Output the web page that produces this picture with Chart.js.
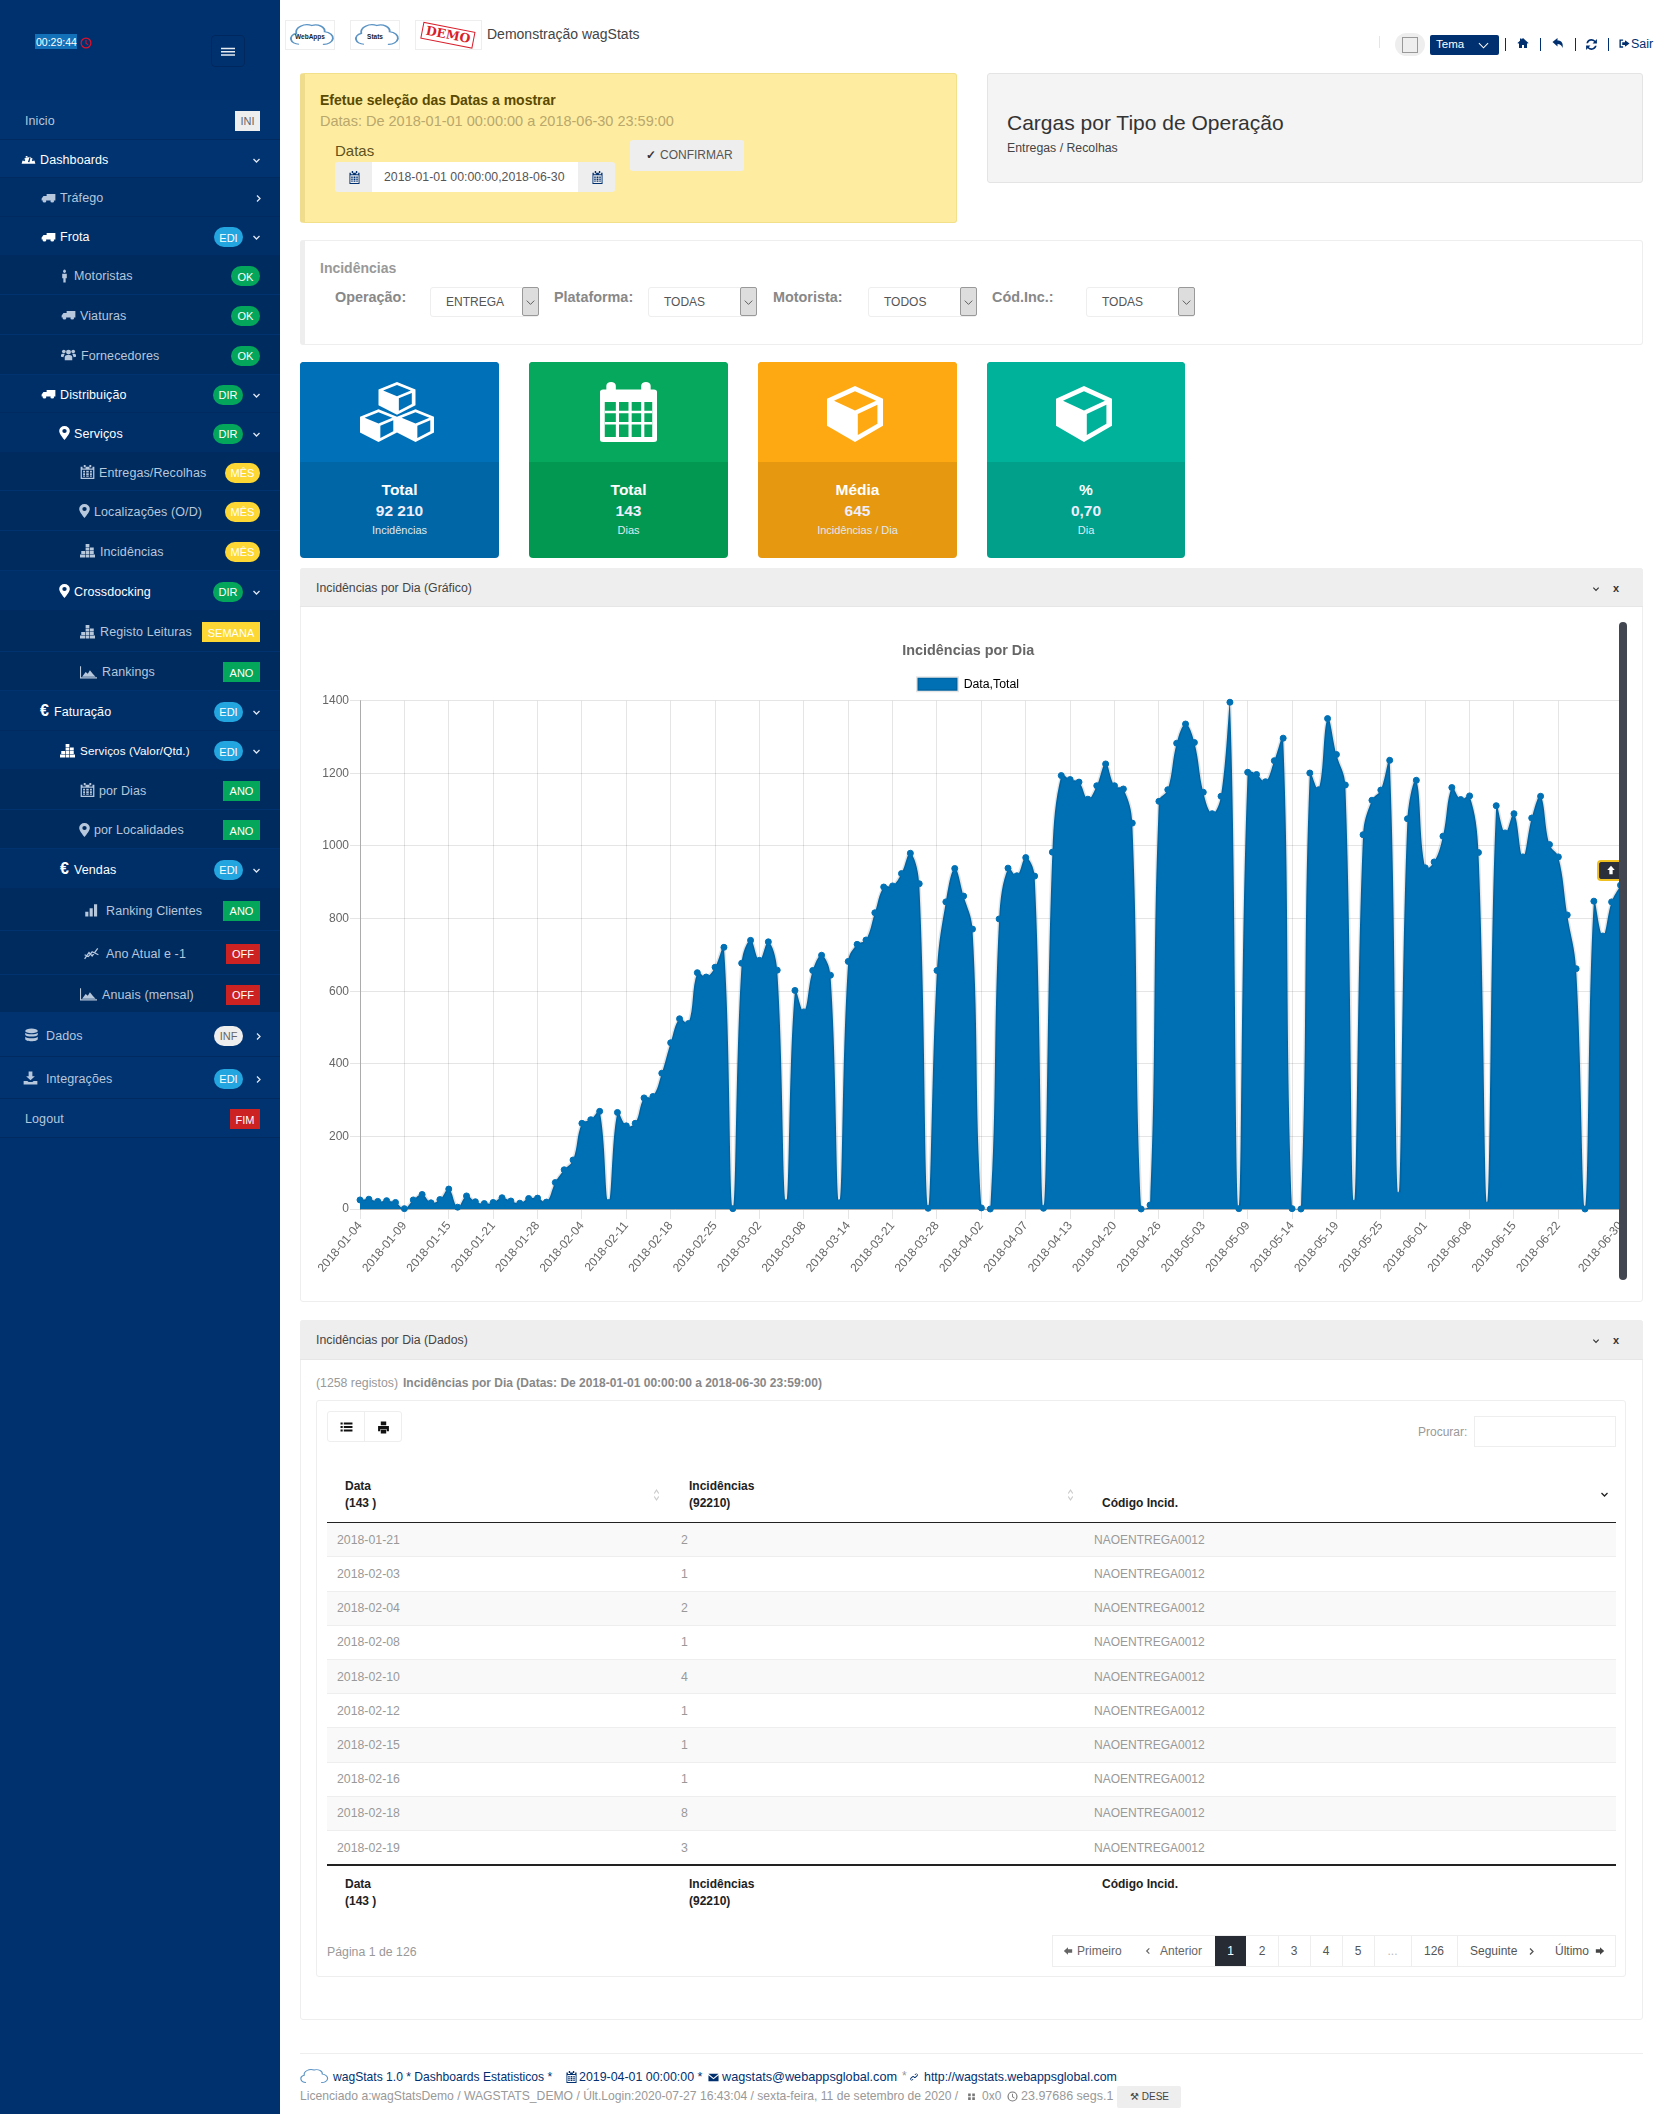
<!DOCTYPE html>
<html lang="pt">
<head>
<meta charset="utf-8">
<title>wagStats - Incidências por Dia</title>
<script src="https://cdn.jsdelivr.net/npm/chart.js@4/dist/chart.umd.js"></script>
<style>
html,body{margin:0;padding:0;background:#fff}
#page{position:relative;width:1673px;height:2114px;overflow:hidden;font:12px "Liberation Sans",Arial,sans-serif;color:#333}
#page div,#page span.t{position:absolute;box-sizing:border-box}
.t{white-space:nowrap;line-height:1;transform:translateY(-50%)}
.c{transform:translate(-50%,-50%)}
svg{position:absolute;fill:currentColor;overflow:visible}
canvas{position:absolute;left:316px;top:630px}
</style>
</head>
<body>
<div id="page"></div>
<canvas id="incidencias-chart" width="1305" height="655"></canvas>
<script>
// chart data
const chartTitle = 'Incidências por Dia';
const seriesName = 'Data,Total';
const categories = [
  '2018-01-04','2018-01-05','2018-01-06','2018-01-07','2018-01-08','2018-01-09','2018-01-10','2018-01-11','2018-01-12','2018-01-13',
  '2018-01-15','2018-01-16','2018-01-17','2018-01-18','2018-01-19','2018-01-21','2018-01-22','2018-01-23','2018-01-24','2018-01-25',
  '2018-01-28','2018-01-30','2018-01-31','2018-02-01','2018-02-03','2018-02-04','2018-02-06','2018-02-07','2018-02-08','2018-02-10',
  '2018-02-11','2018-02-12','2018-02-13','2018-02-15','2018-02-16','2018-02-18','2018-02-19','2018-02-20','2018-02-21','2018-02-22',
  '2018-02-25','2018-02-26','2018-02-27','2018-02-28','2018-03-01','2018-03-02','2018-03-03','2018-03-05','2018-03-06','2018-03-07',
  '2018-03-08','2018-03-09','2018-03-10','2018-03-12','2018-03-13','2018-03-14','2018-03-15','2018-03-16','2018-03-17','2018-03-19',
  '2018-03-21','2018-03-22','2018-03-23','2018-03-24','2018-03-26','2018-03-28','2018-03-29','2018-03-30','2018-03-31','2018-04-01',
  '2018-04-02','2018-04-03','2018-04-04','2018-04-05','2018-04-06','2018-04-07','2018-04-09','2018-04-10','2018-04-11','2018-04-12',
  '2018-04-13','2018-04-14','2018-04-16','2018-04-17','2018-04-19','2018-04-20','2018-04-21','2018-04-23','2018-04-24','2018-04-25',
  '2018-04-26','2018-04-27','2018-04-28','2018-04-30','2018-05-02','2018-05-03','2018-05-04','2018-05-05','2018-05-07','2018-05-08',
  '2018-05-09','2018-05-10','2018-05-11','2018-05-12','2018-05-13','2018-05-14','2018-05-15','2018-05-16','2018-05-17','2018-05-18',
  '2018-05-19','2018-05-21','2018-05-22','2018-05-23','2018-05-24','2018-05-25','2018-05-26','2018-05-28','2018-05-29','2018-05-30',
  '2018-06-01','2018-06-02','2018-06-04','2018-06-05','2018-06-06','2018-06-08','2018-06-09','2018-06-11','2018-06-12','2018-06-13',
  '2018-06-15','2018-06-16','2018-06-18','2018-06-19','2018-06-20','2018-06-22','2018-06-23','2018-06-25','2018-06-26','2018-06-27',
  '2018-06-28','2018-06-29','2018-06-30'
];
const totals = [
  25,27,21,23,18,1,25,40,17,26,
  55,5,36,20,15,18,31,22,16,29,
  30,19,73,108,135,236,246,269,18,266,
  229,236,306,310,374,458,524,511,651,639,
  666,721,1,677,740,685,736,658,17,602,
  543,657,699,644,17,682,729,741,816,887,
  890,924,980,896,2,657,846,938,862,771,
  3,0,799,939,918,968,917,2,983,1194,
  1183,1176,1129,1166,1226,1166,1157,1063,0,11,
  1123,1155,1283,1336,1285,1148,1089,1137,1396,1,
  1203,1197,1177,1235,1297,1,0,1201,1155,1351,
  1252,1168,16,1031,1126,1154,1236,38,1075,1181,
  940,956,1027,1161,1128,1138,982,11,1111,1036,
  1089,970,1077,1137,1004,970,810,662,0,848,
  752,846,892
];
const tickDates = [
  '2018-01-04','2018-01-09','2018-01-15','2018-01-21','2018-01-28','2018-02-04','2018-02-11','2018-02-18','2018-02-25','2018-03-02',
  '2018-03-08','2018-03-14','2018-03-21','2018-03-28','2018-04-02','2018-04-07','2018-04-13','2018-04-20','2018-04-26','2018-05-03',
  '2018-05-09','2018-05-14','2018-05-19','2018-05-25','2018-06-01','2018-06-08','2018-06-15','2018-06-22','2018-06-30'
];

// table data
const tableDates = ['2018-01-21','2018-02-03','2018-02-04','2018-02-08','2018-02-10','2018-02-12','2018-02-15','2018-02-16','2018-02-18','2018-02-19'];
const tableCounts = [2,1,2,1,4,1,1,1,8,3];
const tableCode = 'NAOENTREGA0012';

const NAVY = '#003070';
const BLUE = '#0070b5';

const ICONS = {
  truck:'<path d="M9 4h14v13H9zM1 17v-4l3-5h5v9z"/><circle cx="5.5" cy="18" r="3"/><circle cx="18" cy="18" r="3"/>',
  gauge:'<path fill-rule="evenodd" d="M1 20a11 11 0 1 1 22 0zM11 17l3-9 1.500.7-2 8.800zM5 12a1.700 1.700 0 1 0 .01 0zM19 12a1.700 1.700 0 1 0 .01 0zM9 7a1.500 1.500 0 1 0 .01 0z"/>',
  person:'<circle cx="12" cy="4" r="3"/><path d="M7 8h10v8h-2.500v7h-5v-7H7z"/>',
  users:'<circle cx="12" cy="7" r="4"/><circle cx="4.500" cy="6" r="3"/><circle cx="19.500" cy="6" r="3"/><path d="M6 21v-6a4 4 0 0 1 4-3h4a4 4 0 0 1 4 3v6zM0 15v-3a3 3 0 0 1 3-2h3l-2 5v1zM24 15v-3a3 3 0 0 0-3-2h-3l2 5v1z"/>',
  pin:'<path fill-rule="evenodd" d="M12 0a8.500 8.500 0 0 1 8.500 8.500c0 5-8.500 15.500-8.500 15.500S3.500 13.500 3.500 8.500A8.500 8.500 0 0 1 12 0zm0 5a3.500 3.500 0 1 0 0 7 3.500 3.500 0 0 0 0-7z"/>',
  calendar:'<path fill-rule="evenodd" d="M6 0h3v4H6zM15 0h3v4h-3zM1 3h3v3h5V3h6v3h5V3h3v21H1zM3 8v14h18V8z"/><path d="M5 10h3v3H5zM10 10h4v3h-4zM16 10h3v3h-3zM5 14h3v3H5zM10 14h4v3h-4zM16 14h3v3h-3zM5 18h3v2H5zM10 18h4v2h-4zM16 18h3v2h-3z"/>',
  chartStack:'<path d="M9 0h6v5H9zM9 6h6v5H9zM16 6h6v5h-6zM2 12h6v5H2zM9 12h6v5H9zM16 12h6v5h-6zM0 18h8v5H0zM9 18h6v5H9zM16 18h8v5h-8z"/>',
  area:'<path d="M0 2h1.500v19H24v2H0z"/><path d="M3 20l5-8 3 3 3-6 4 6 4 5z"/>',
  bars:'<path d="M2 15h5v8H2zM9 9h5v14H9zM16 2h5v21h-5z"/>',
  db:'<ellipse cx="12" cy="5" rx="10" ry="4"/><path d="M2 8c3 3.500 17 3.500 20 0v4c-3 3.500-17 3.500-20 0zM2 15c3 3.500 17 3.500 20 0v4c0 5-20 5-20 0z"/>',
  download:'<path d="M9 1h6v8h4l-7 7-7-7h4zM1 17h6l2 2h6l2-2h6v6H1z"/>',
  home:'<path d="M12 2l11 10-1.500 1.500L20 12v10h-6v-6h-4v6H4V12l-1.500 1.500L1 12l5-4.500V3h3v2z"/>',
  reply:'<path d="M11 2v5c8 0 12 5 10 15-2-6-5-8-10-8v5L1 10z"/>',
  refresh:'<path d="M12 2a10 10 0 0 1 7 3l3-3v8h-8l3-3a7 7 0 0 0-11.500 2.500H2.500A10 10 0 0 1 12 2zM12 22a10 10 0 0 1-7-3l-3 3v-8h8l-3 3a7 7 0 0 0 11.500-2.500h3A10 10 0 0 1 12 22z"/>',
  signout:'<path d="M9 3v3H4v12h5v3H1V3zM13 5l10 7-10 7v-4H7V9h6z"/>',
  list:'<path d="M1 3h4v4H1zM7 3h16v4H7zM1 10h4v4H1zM7 10h16v4H7zM1 17h4v4H1zM7 17h16v4H7z"/>',
  print:'<path d="M7 1h10v7H7zM2 9h20v10h-4v-4H6v4H2zM7 16h10v7H7z"/>',
  mail:'<path d="M1 4h22l-11 9zM1 7l11 9 11-9v13H1z"/>',
  link:'<path d="M13 7l3-3a4 4 0 0 1 5 5l-5 5a4 4 0 0 1-5-1l1.500-1.500a2 2 0 0 0 2 .5l5-5a2 2 0 0 0-2-2l-2 2zM11 17l-3 3a4 4 0 0 1-5-5l5-5a4 4 0 0 1 5 1l-1.500 1.500a2 2 0 0 0-2-.5l-5 5a2 2 0 0 0 2 2l2-2z"/>',
  clock:'<path fill-rule="evenodd" d="M12 1a11 11 0 1 1 0 22 11 11 0 0 1 0-22zm0 2.500a8.500 8.500 0 1 0 0 17 8.500 8.500 0 0 0 0-17zM11 6h2v6l4 3-1.200 1.600L11 13z"/>',
  arrowLeft:'<path d="M2 12l10-9v5h10v8H12v5z"/>',
  arrowRight:'<path d="M22 12l-10-9v5H2v8h10v5z"/>',
  arrowUp:'<path d="M12 2l9 10h-5v10H8V12H3z"/>',
  grips:'<path d="M3 4h7v7H3zM14 4h7v7h-7zM3 14h7v7H3zM14 14h7v7h-7z"/>',
  lineChart:'<path fill="none" stroke="currentColor" stroke-width="2" d="M1 22L8 11l5 6L22 4M1 15l6 3 6-8 10 5"/>',
  menu:'<path d="M0 4h24v3H0zM0 11h24v3H0zM0 18h24v3H0z"/>',
  cloud:'<path fill="none" stroke="currentColor" stroke-width="1" d="M6 21a4.500 4.500 0 0 1-1.500-8.700A6 6 0 0 1 13 6a5 5 0 0 1 7 5 5 5 0 0 1-1 10"/>',
  chevD:'<path fill="none" stroke="currentColor" stroke-width="3.500" d="M4 8l8 8 8-8"/>',
  chevR:'<path fill="none" stroke="currentColor" stroke-width="3.500" d="M8 4l8 8-8 8"/>',
  chevL:'<path fill="none" stroke="currentColor" stroke-width="3.500" d="M16 4l-8 8 8 8"/>',
  thinD:'<path fill="none" stroke="currentColor" stroke-width="2.200" d="M2 7l10 10L22 7"/>',
  sort:'<path fill="none" stroke="currentColor" stroke-width="2.500" d="M6 9l6-7 6 7M6 15l6 7 6-7"/>'
};

const page = document.getElementById('page');

function box(x, y, w, h, bg, extra) {
  const el = document.createElement('div');
  el.style.cssText = `left:${x}px;top:${y}px;width:${w}px;height:${h}px;background:${bg};${extra || ''}`;
  page.appendChild(el);
  return el;
}

// text, vertically centred on y
function text(x, y, str, color, size, extra) {
  const el = document.createElement('span');
  el.className = 't';
  el.textContent = str;
  el.style.cssText = `left:${x}px;top:${y}px;color:${color || '#333'};font-size:${size || 12}px;${extra || ''}`;
  page.appendChild(el);
  return el;
}

function ctext(x, y, str, color, size, extra) {
  const el = text(x, y, str, color, size, extra);
  el.classList.add('c');
  return el;
}

// icon centred on x,y
function icon(name, x, y, size, color, h) {
  const height = h || size;
  const holder = document.createElementNS('http://www.w3.org/2000/svg', 'svg');
  holder.setAttribute('viewBox', '0 0 24 24');
  holder.setAttribute('preserveAspectRatio', 'none');
  holder.style.cssText = `left:${x - size / 2}px;top:${y - height / 2}px;width:${size}px;height:${height}px;color:${color}`;
  holder.innerHTML = ICONS[name];
  page.appendChild(holder);
  return holder;
}

/* ---------- sidebar ---------- */
box(0, 0, 280, 2114, '#00316f');
box(35, 34, 42, 15, '#1271b8');
text(36, 42, '00:29:44', '#fff', 10.500);
icon('clock', 86, 43, 12, '#e0102a');
box(211, 35, 34, 32, 'transparent', 'border:1px solid #00285e;border-radius:4px');
icon('menu', 228, 51, 14, '#e8edf4', 11);

const GREEN = '#03a65a', SKY = '#23a6e0', YELLOW = '#fdd835', RED = '#cc2222', LIGHT = '#eeeeee';
// label, text x, row top, row bottom, level, icon, icon x, bright, badge, badge colour, badge left, pill, arrow
const sideRows = [
  ['Inicio', 25, 100, 140, 0, null, 0, 0, 'INI', LIGHT, 235, 0, ''],
  ['Dashboards', 40, 140, 178, 0, 'gauge', 28, 1, '', '', 0, 0, 'd'],
  ['Tráfego', 60, 178, 217, 1, 'truck', 48, 0, '', '', 0, 0, 'r'],
  ['Frota', 60, 217, 256, 1, 'truck', 48, 1, 'EDI', SKY, 214, 1, 'd'],
  ['Motoristas', 74, 256, 295, 2, 'person', 64, 0, 'OK', GREEN, 231, 1, ''],
  ['Viaturas', 80, 295, 335, 2, 'truck', 68, 0, 'OK', GREEN, 231, 1, ''],
  ['Fornecedores', 81, 335, 375, 2, 'users', 68, 0, 'OK', GREEN, 231, 1, ''],
  ['Distribuição', 60, 375, 413, 1, 'truck', 48, 1, 'DIR', GREEN, 213, 1, 'd'],
  ['Serviços', 74, 413, 453, 1, 'pin', 64, 1, 'DIR', GREEN, 213, 1, 'd'],
  ['Entregas/Recolhas', 99, 453, 491, 2, 'calendar', 87, 0, 'MÊS', YELLOW, 225, 1, ''],
  ['Localizações (O/D)', 94, 491, 531, 2, 'pin', 84, 0, 'MÊS', YELLOW, 225, 1, ''],
  ['Incidências', 100, 531, 571, 2, 'chartStack', 87, 0, 'MÊS', YELLOW, 225, 1, ''],
  ['Crossdocking', 74, 571, 611, 1, 'pin', 64, 1, 'DIR', GREEN, 213, 1, 'd'],
  ['Registo Leituras', 100, 611, 652, 2, 'chartStack', 87, 0, 'SEMANA', YELLOW, 202, 0, ''],
  ['Rankings', 102, 652, 691, 2, 'area', 88, 0, 'ANO', GREEN, 223, 0, ''],
  ['Faturação', 54, 691, 731, 1, '€', 45, 1, 'EDI', SKY, 214, 1, 'd'],
  ['Serviços (Valor/Qtd.)', 80, 731, 770, 1, 'chartStack', 67, 1, 'EDI', SKY, 214, 1, 'd'],
  ['por Dias', 99, 770, 810, 2, 'calendar', 87, 0, 'ANO', GREEN, 223, 0, ''],
  ['por Localidades', 94, 810, 849, 2, 'pin', 84, 0, 'ANO', GREEN, 223, 0, ''],
  ['Vendas', 74, 849, 889, 1, '€', 65, 1, 'EDI', SKY, 214, 1, 'd'],
  ['Ranking Clientes', 106, 889, 931, 2, 'bars', 91, 0, 'ANO', GREEN, 223, 0, ''],
  ['Ano Atual e -1', 106, 931, 975, 2, 'lineChart', 91, 0, 'OFF', RED, 226, 0, ''],
  ['Anuais (mensal)', 102, 975, 1013, 2, 'area', 88, 0, 'OFF', RED, 226, 0, ''],
  ['Dados', 46, 1013, 1057, 0, 'db', 31, 0, 'INF', LIGHT, 214, 1, 'r'],
  ['Integrações', 46, 1057, 1099, 0, 'download', 30, 0, 'EDI', SKY, 214, 1, 'r'],
  ['Logout', 25, 1099, 1138, 0, null, 0, 0, 'FIM', RED, 230, 0, '']
];
const levelColours = ['#00336f', '#002f68', '#002b5e'];
const badgeRight = { 'EDI': 243, 'DIR': 243, 'INF': 243 };

sideRows.forEach(r => {
  const [label, tx, top, bottom, level, ic, ix, bright, badge, badgeBg, badgeX, pill, arrow] = r;
  const cy = (top + bottom) / 2;
  box(0, top, 280, bottom - top, levelColours[level], 'border-bottom:1px solid ' + (level === 2 ? '#00336f' : '#002a60'));
  const colour = bright ? '#ffffff' : '#b7c7dc';
  text(tx, cy + 0.7, label, colour, label.length > 20 ? 11.700 : 12.500, 'letter-spacing:.1px');
  if (ic === '€') text(ix - 5, cy, '€', colour, 16, 'font-weight:bold');
  else if (ic) icon(ic, ix, cy, ic === 'area' ? 17 : ic === 'person' ? 11 : 15, colour, ic === 'truck' ? 12 : 14);
  if (badge) {
    const right = badgeRight[badge] || 260;
    const dark = badge === 'INI' || badge === 'INF';
    box(badgeX, cy - 9.500, right - badgeX, 20, badgeBg, pill ? 'border-radius:10px' : '');
    ctext((badgeX + right) / 2, cy + 1, badge, dark ? '#666' : '#fff', 11);
  }
  if (arrow === 'd') icon('chevD', 256, cy + 1, 9, '#dfe6ef');
  if (arrow === 'r') icon('chevR', 258, cy + 1, 9, '#dfe6ef');
});

/* ---------- top bar ---------- */
[[285, 50, 'WebApps'], [350, 50, 'Stats']].forEach(([x, w, name]) => {
  box(x, 20, w, 30, '#fff', 'border:1px solid #eee');
  icon('cloud', x + w / 2, 33, 44, '#5a93c4', 30);
  ctext(x + w / 2, 37, name, '#222', 6.500, 'font-weight:bold');
});
box(415, 20, 67, 30, '#fff', 'border:1px solid #eee');
ctext(448, 35, 'DEMO', '#d81f2c', 12.500, 'font-weight:bold;font-family:"DejaVu Serif",serif;transform:translate(-50%,-50%) rotate(11deg);border:1.500px solid #d81f2c;padding:1px 3px');
text(487, 34, 'Demonstração wagStats', '#444', 14);

box(1379, 36, 1, 12, '#e5e5e5');
box(1395, 33, 30, 23, '#eee', 'border-radius:12px');
box(1402, 37, 16, 16, '#eee', 'border:1px solid #999');
box(1430, 35, 69, 20, NAVY, 'border-radius:2px');
text(1436, 45, 'Tema', '#fff', 11.500);
icon('thinD', 1483, 45, 11, '#fff');
[1505, 1540, 1575, 1608].forEach(x => box(x, 38, 1, 13, NAVY));
icon('home', 1523, 43, 12, NAVY);
icon('reply', 1558, 43, 12, NAVY);
icon('refresh', 1591, 44, 13, NAVY);
icon('signout', 1624, 43, 11, NAVY);
text(1631, 44, 'Sair', NAVY, 12.500);

/* ---------- date box and title box ---------- */
box(300, 73, 657, 150, '#feeda0', 'border:1px solid #f2e08a;border-left:5px solid #efdc8c;border-radius:3px');
text(320, 100, 'Efetue seleção das Datas a mostrar', '#5a4a00', 14, 'font-weight:bold');
text(320, 121, 'Datas: De 2018-01-01 00:00:00 a 2018-06-30 23:59:00', '#b9a76c', 14.500);
text(335, 150, 'Datas', '#5e5220', 15);
box(335, 162, 280, 30, '#eee', 'border-radius:3px');
box(372, 162, 206, 30, '#fff');
icon('calendar', 354, 177, 11, NAVY, 13);
icon('calendar', 597, 177, 11, NAVY, 13);
text(384, 177, '2018-01-01 00:00:00,2018-06-30', '#555', 12.300);
box(630, 140, 114, 31, '#eee', 'border-radius:3px');
text(646, 155, '✓', '#333', 12, 'font-weight:bold');
text(660, 155, 'CONFIRMAR', '#555', 12);

box(987, 73, 656, 110, '#f4f4f4', 'border:1px solid #e4e4e4;border-radius:3px');
text(1007, 121.500, 'Cargas por Tipo de Operação', '#333', 21);
text(1007, 148, 'Entregas / Recolhas', '#444', 12.300);

/* ---------- filters ---------- */
box(300, 240, 1343, 105, '#fff', 'border:1px solid #eee;border-left:5px solid #eee;border-radius:3px');
text(320, 268, 'Incidências', '#999', 14, 'font-weight:bold');
[
  ['Operação:', 335, 430, 'ENTREGA'],
  ['Plataforma:', 554, 648, 'TODAS'],
  ['Motorista:', 773, 868, 'TODOS'],
  ['Cód.Inc.:', 992, 1086, 'TODAS']
].forEach(([label, lx, sx, value]) => {
  text(lx, 297, label, '#888', 14.400, 'font-weight:bold');
  box(sx, 287, 109, 30, '#fff', 'border:1px solid #eee;border-radius:3px');
  text(sx + 16, 302, value, '#555', 12);
  box(sx + 92, 287, 17, 29, '#ddd', 'border:1px solid #999;border-radius:2px');
  icon('thinD', sx + 100.500, 302, 9, '#444');
});

/* ---------- stat cards ---------- */
function cubePath(dx, dy) {
  const X = v => (v + dx).toFixed(2);
  const Y = v => (v + dy).toFixed(2);
  // outline hexagon, with a top window and a right side window cut out
  return `M${X(12)} ${Y(0)}L${X(22)} ${Y(5.5)}V${Y(17)}L${X(12)} ${Y(24)}L${X(2)} ${Y(17)}V${Y(5.5)}Z` +
    `M${X(12)} ${Y(2.2)}L${X(4.5)} ${Y(6.3)}L${X(12)} ${Y(10.5)}L${X(19.5)} ${Y(6.3)}Z` +
    `M${X(13)} ${Y(12)}V${Y(21)}L${X(20)} ${Y(16.2)}V${Y(8)}Z`;
}
const cubeShape = (dx, dy) => `<path fill="#fff" fill-rule="evenodd" d="${cubePath(dx, dy)}"/>`;
const calendarShape = '<path fill="#fff" fill-rule="evenodd" d="M4 3h1V1.500a1.500 1.500 0 0 1 3 0V3h8V1.500a1.500 1.500 0 0 1 3 0V3h1a1 1 0 0 1 1 1v19a1 1 0 0 1-1 1H4a1 1 0 0 1-1-1V4a1 1 0 0 1 1-1zM4.500 8v14h15V8z"/><path fill="#fff" d="M8 8h1v14H8zM12 8h1v14h-1zM16 8h1v14h-1zM4.500 11.500h15v1h-15zM4.500 16h15v1h-15z"/>';
// art, viewBox, centre x, centre y, width, height
const cardIcons = [
  [cubeShape(8, 0) + cubeShape(-2, 20) + cubeShape(18, 20), '0 0 40 44', 397, 412, 74, 60],
  [calendarShape, '3 0 18 24', 628.500, 412, 57, 60],
  [cubeShape(0, 0), '2 0 20 24', 855, 414, 56, 56],
  [cubeShape(0, 0), '2 0 20 24', 1084, 414, 56, 56]
];
const cards = [
  [300, 199, '#0071b8', '#0066a5', 'Total', '92 210', 'Incidências'],
  [529, 199, '#05a85c', '#039851', 'Total', '143', 'Dias'],
  [758, 199, '#ffa912', '#e59810', 'Média', '645', 'Incidências / Dia'],
  [987, 198, '#00b29a', '#00a08b', '%', '0,70', 'Dia']
];
cards.forEach(([x, w, top, bottom, title, value, sub], i) => {
  box(x, 362, w, 196, bottom, 'border-radius:4px;overflow:hidden');
  box(x, 362, w, 100, top, 'border-radius:4px 4px 0 0');
  const cx = x + w / 2;
  const [art, viewBox, ix, iy, iw, ih] = cardIcons[i];
  const holder = document.createElementNS('http://www.w3.org/2000/svg', 'svg');
  holder.setAttribute('viewBox', viewBox);
  holder.setAttribute('preserveAspectRatio', 'none');
  holder.style.cssText = `left:${ix - iw / 2}px;top:${iy - ih / 2}px;width:${iw}px;height:${ih}px`;
  holder.innerHTML = art;
  page.appendChild(holder);
  ctext(cx, 490, title, '#fff', 15.500, 'font-weight:bold');
  ctext(cx, 511, value, '#eef', 15.500, 'font-weight:bold');
  ctext(cx, 530, sub, '#dfeaf0', 11);
});

/* ---------- chart panel ---------- */
function panelHead(top, h, title) {
  box(300, top, 1343, h, '#eee', 'border-bottom:1px solid #e6e6e6;border-radius:3px 3px 0 0');
  text(316, top + h / 2, title, '#444', 12.300);
  icon('chevD', 1596, top + h / 2 + 1, 8, '#333');
  ctext(1616, top + h / 2, 'x', '#333', 11, 'font-weight:bold');
}
box(300, 568, 1343, 734, '#fff', 'border:1px solid #eee;border-radius:3px');
panelHead(568, 39, 'Incidências por Dia (Gráfico)');

/* ---------- data panel ---------- */
box(300, 1320, 1343, 700, '#fff', 'border:1px solid #eee;border-radius:3px');
panelHead(1320, 40, 'Incidências por Dia (Dados)');
text(316, 1383, '(1258 registos) ', '#999', 12.300);
text(403, 1383, 'Incidências por Dia (Datas: De 2018-01-01 00:00:00 a 2018-06-30 23:59:00)', '#888', 12, 'font-weight:bold');
box(316, 1400, 1310, 577, '#fff', 'border:1px solid #eee;border-radius:3px');
box(327, 1411, 75, 31, '#fff', 'border:1px solid #eee;border-radius:3px');
box(364, 1411, 1, 31, '#eee');
icon('list', 346, 1427, 13, '#111', 12);
icon('print', 383, 1427, 13, '#111');
text(1418, 1432, 'Procurar:', '#999', 12);
box(1474, 1416, 142, 31, '#fff', 'border:1px solid #eee');

function tableHead(y1, y2) {
  text(345, y1, 'Data', '#222', 12, 'font-weight:bold');
  text(345, y2, '(143 )', '#222', 12, 'font-weight:bold');
  text(689, y1, 'Incidências', '#222', 12, 'font-weight:bold');
  text(689, y2, '(92210)', '#222', 12, 'font-weight:bold');
}
tableHead(1486, 1503);
text(1102, 1503, 'Código Incid.', '#222', 12, 'font-weight:bold');
icon('sort', 656, 1495, 9, '#ccc', 12);
icon('sort', 1070, 1495, 9, '#ccc', 12);
icon('chevD', 1604, 1494, 9, '#222');
box(327, 1522, 1289, 2, '#222');

tableDates.forEach((d, i) => {
  const top = 1523.200 + i * 34.200;
  if (i % 2 === 0) box(327, top, 1289, 33.200, '#f9f9f9');
  if (i < 9) box(327, top + 33.200, 1289, 1, '#eee');
  const y = top + 16.500;
  text(337, y, d, '#999', 12.300);
  text(681, y, String(tableCounts[i]), '#999', 12.300);
  text(1094, y, tableCode, '#999', 12);
});
box(327, 1864, 1289, 2, '#222');
tableHead(1884, 1901);
text(1102, 1884, 'Código Incid.', '#222', 12, 'font-weight:bold');
text(327, 1952, 'Página 1 de 126', '#999', 12.300);

/* ---------- pagination ---------- */
box(1052, 1935, 564, 32, '#fff', 'border:1px solid #eee');
icon('arrowLeft', 1068, 1951, 10, '#666');
text(1077, 1951, 'Primeiro', '#666', 12);
icon('chevL', 1148, 1951, 8, '#666');
text(1160, 1951, 'Anterior', '#666', 12);
box(1215, 1936, 31, 30, '#272b34');
ctext(1230.500, 1951, '1', '#fff', 12);
[[1246, 1278, '2'], [1278, 1310, '3'], [1310, 1342, '4'], [1342, 1374, '5'], [1374, 1411, '...'], [1411, 1457, '126']].forEach(([a, b, s]) => {
  box(b, 1936, 1, 30, '#eee');
  ctext((a + b) / 2, 1951, s, s === '...' ? '#bbb' : '#555', 12);
});
text(1470, 1951, 'Seguinte', '#555', 12);
icon('chevR', 1531, 1951, 9, '#555');
text(1555, 1951, 'Último', '#555', 12);
icon('arrowRight', 1600, 1951, 10, '#444');

/* ---------- page footer ---------- */
box(300, 2053, 1343, 1, '#eee');
icon('cloud', 313, 2075, 28, '#5a93c4', 20);
text(333, 2077, 'wagStats 1.0 * Dashboards Estatisticos *', NAVY, 12.100);
icon('calendar', 571, 2077, 11, NAVY, 12);
text(579, 2077, '2019-04-01 00:00:00 *', NAVY, 12.400);
icon('mail', 713, 2077, 11, NAVY);
text(722, 2077, 'wagstats@webappsglobal.com', NAVY, 12.700);
text(902, 2076, '*', '#999', 12);
icon('link', 914, 2077, 10, NAVY);
text(924, 2077, 'http://wagstats.webappsglobal.com', NAVY, 12.400);
text(300, 2096, 'Licenciado a:wagStatsDemo / WAGSTATS_DEMO / Últ.Login:2020-07-27 16:43:04 / sexta-feira, 11 de setembro de 2020 /', '#999', 12.150);
icon('grips', 971, 2096, 9, '#777');
text(982, 2096, '0x0', '#999', 12);
icon('clock', 1012, 2096, 11, '#777');
text(1021, 2096, '23.97686 segs.1', '#999', 12.500);
box(1117, 2086, 64, 22, '#eee', 'border-radius:2px');
text(1130, 2097, '⚒ DESE', '#444', 10);

/* ---------- chart ---------- */
new Chart(document.getElementById('incidencias-chart'), {
  type: 'line',
  data: {
    labels: categories,
    datasets: [{
      label: seriesName,
      data: totals,
      fill: true,
      backgroundColor: BLUE,
      borderColor: 'rgba(0,0,0,0.1)',
      borderWidth: 3,
      tension: 0.4,
      pointRadius: 3,
      pointBackgroundColor: BLUE,
      pointBorderColor: BLUE,
      pointBorderWidth: 1,
      clip: false
    }]
  },
  options: {
    responsive: false,
    animation: false,
    layout: { autoPadding: false, padding: { right: 0.5 } },
    scales: {
      x: {
        afterBuildTicks(axis) {
          axis.ticks = tickDates.map(d => ({ value: categories.indexOf(d) }));
        },
        afterFit(axis) {
          axis.height = 76;
          axis.paddingLeft = 0;
          axis.paddingRight = 0;
        },
        border: { color: 'rgba(0,0,0,0.25)' },
        grid: { color: 'rgba(0,0,0,0.1)', tickLength: 10 },
        ticks: {
          autoSkip: false,
          minRotation: 50,
          maxRotation: 50,
          padding: 0,
          color: '#666',
          font: { size: 12, family: '"Liberation Sans", Arial' }
        }
      },
      y: {
        min: 0,
        max: 1400,
        afterFit(axis) { axis.width = 44; },
        border: { color: 'rgba(0,0,0,0.25)' },
        grid: { color: 'rgba(0,0,0,0.1)', tickLength: 10 },
        ticks: {
          stepSize: 200,
          padding: 1,
          callback: value => String(value),
          color: '#666',
          font: { size: 12, family: '"Liberation Sans", Arial' }
        }
      }
    },
    plugins: {
      title: {
        display: true,
        text: chartTitle,
        color: '#666',
        font: { size: 14.400, weight: 'bold', family: '"Liberation Sans", Arial' },
        padding: { top: 12, bottom: 8.500 }
      },
      legend: {
        labels: {
          boxWidth: 40,
          boxHeight: 13,
          color: '#000',
          font: { size: 12.300, family: '"Liberation Sans", Arial' }
        }
      },
      tooltip: { enabled: false }
    }
  }
});

/* ---------- back-to-top and scrollbar, over the chart ---------- */
box(1597, 860, 29, 21, '#2a2f3a', 'border:2px solid #f0c020;border-right:none;border-radius:4px 0 0 4px;z-index:5');
icon('arrowUp', 1611, 870, 10, '#fff').style.zIndex = 6;
box(1619, 622, 7.500, 658, '#424650', 'border-radius:4px;z-index:7');
</script>
</body>
</html>
